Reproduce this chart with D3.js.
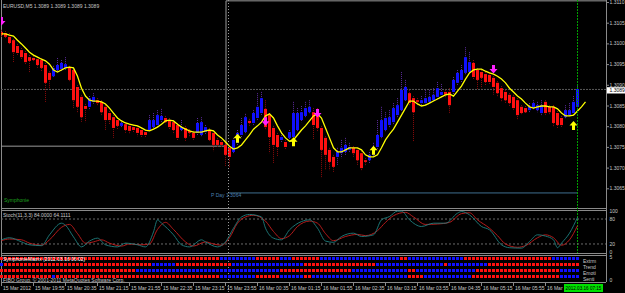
<!DOCTYPE html>
<html>
<head>
<meta charset="utf-8">
<script src="https://cdn.jsdelivr.net/npm/d3@7"></script>
<style>
  body { margin: 0; background: #000; }
  svg { display: block; }
  text { font-family: "Liberation Sans", Arial, sans-serif; }
</style>
</head>
<body>
<div id="chart"></div>
<script>
// EURUSD M5 bars, one per 5 minutes
const opens = [1.31029,1.31026,1.31017,1.31009,1.30995,1.30985,1.30978,1.30968,1.30966,1.30963,
  1.30961,1.30949,1.30930,1.30922,1.30937,1.30939,1.30942,1.30944,1.30937,1.30896,
  1.30872,1.30850,1.30848,1.30860,1.30864,1.30860,1.30848,1.30833,1.30823,1.30816,
  1.30802,1.30806,1.30802,1.30799,1.30797,1.30792,1.30787,1.30792,1.30799,1.30804,
  1.30816,1.30821,1.30816,1.30811,1.30804,1.30792,1.30797,1.30790,1.30785,1.30785,
  1.30780,1.30787,1.30792,1.30785,1.30768,1.30763,1.30756,1.30749,1.30739,1.30761,
  1.30780,1.30787,1.30814,1.30809,1.30821,1.30833,1.30843,1.30828,1.30797,1.30780,
  1.30768,1.30763,1.30773,1.30775,1.30792,1.30816,1.30826,1.30835,1.30835,1.30828,
  1.30797,1.30773,1.30744,1.30727,1.30727,1.30736,1.30739,1.30744,1.30749,1.30744,
  1.30736,1.30719,1.30719,1.30732,1.30751,1.30775,1.30792,1.30804,1.30811,1.30828,
  1.30840,1.30864,1.30881,1.30869,1.30864,1.30857,1.30857,1.30860,1.30864,1.30872,
  1.30877,1.30884,1.30884,1.30884,1.30906,1.30913,1.30930,1.30932,1.30954,1.30937,
  1.30932,1.30927,1.30925,1.30918,1.30906,1.30893,1.30884,1.30877,1.30872,1.30864,
  1.30848,1.30845,1.30840,1.30845,1.30840,1.30833,1.30860,1.30848,1.30848,1.30833,
  1.30821,1.30823,1.30828,1.30833,1.30848];
const highs = [1.31034,1.31031,1.31026,1.31012,1.31000,1.30990,1.30983,1.30973,1.30971,1.30968,
  1.30966,1.30954,1.30934,1.30947,1.30966,1.30961,1.30968,1.30947,1.30939,1.30901,
  1.30877,1.30855,1.30874,1.30881,1.30869,1.30864,1.30852,1.30838,1.30828,1.30821,
  1.30816,1.30811,1.30806,1.30804,1.30802,1.30797,1.30792,1.30828,1.30833,1.30840,
  1.30843,1.30826,1.30821,1.30816,1.30809,1.30816,1.30802,1.30794,1.30790,1.30821,
  1.30823,1.30804,1.30797,1.30790,1.30773,1.30768,1.30761,1.30753,1.30773,1.30792,
  1.30821,1.30831,1.30819,1.30840,1.30881,1.30884,1.30864,1.30833,1.30802,1.30785,
  1.30785,1.30768,1.30792,1.30860,1.30845,1.30850,1.30860,1.30864,1.30845,1.30845,
  1.30802,1.30777,1.30749,1.30732,1.30749,1.30768,1.30773,1.30761,1.30753,1.30749,
  1.30741,1.30724,1.30739,1.30761,1.30816,1.30848,1.30835,1.30840,1.30857,1.30869,
  1.30932,1.30913,1.30889,1.30874,1.30869,1.30874,1.30889,1.30889,1.30893,1.30908,
  1.30903,1.30889,1.30893,1.30920,1.30937,1.30949,1.30992,1.30980,1.30961,1.30942,
  1.30937,1.30932,1.30930,1.30922,1.30910,1.30898,1.30889,1.30881,1.30877,1.30869,
  1.30852,1.30850,1.30857,1.30864,1.30860,1.30864,1.30864,1.30852,1.30852,1.30838,
  1.30826,1.30852,1.30857,1.30874,1.30898];
const lows = [1.31017,1.31012,1.30997,1.30954,1.30973,1.30961,1.30949,1.30932,1.30956,1.30942,
  1.30932,1.30860,1.30893,1.30918,1.30932,1.30934,1.30937,1.30908,1.30845,1.30833,
  1.30811,1.30811,1.30840,1.30855,1.30852,1.30828,1.30792,1.30806,1.30773,1.30792,
  1.30797,1.30785,1.30782,1.30785,1.30777,1.30773,1.30775,1.30790,1.30797,1.30799,
  1.30811,1.30806,1.30792,1.30782,1.30768,1.30787,1.30765,1.30777,1.30768,1.30780,
  1.30775,1.30782,1.30763,1.30741,1.30749,1.30751,1.30703,1.30700,1.30734,1.30756,
  1.30775,1.30782,1.30802,1.30804,1.30816,1.30828,1.30794,1.30736,1.30712,1.30727,
  1.30763,1.30744,1.30768,1.30773,1.30787,1.30811,1.30821,1.30831,1.30768,1.30787,
  1.30676,1.30695,1.30695,1.30691,1.30707,1.30724,1.30732,1.30739,1.30727,1.30707,
  1.30695,1.30705,1.30712,1.30727,1.30746,1.30770,1.30787,1.30799,1.30806,1.30823,
  1.30835,1.30860,1.30850,1.30763,1.30850,1.30852,1.30852,1.30855,1.30860,1.30867,
  1.30869,1.30869,1.30833,1.30879,1.30901,1.30908,1.30925,1.30927,1.30913,1.30889,
  1.30893,1.30898,1.30901,1.30877,1.30872,1.30860,1.30857,1.30850,1.30840,1.30816,
  1.30828,1.30831,1.30835,1.30840,1.30835,1.30828,1.30828,1.30828,1.30799,1.30797,
  1.30799,1.30819,1.30823,1.30828,1.30840];
const closes = [1.31021,1.31017,1.31002,1.30980,1.30978,1.30968,1.30956,1.30959,1.30961,1.30949,
  1.30942,1.30906,1.30913,1.30942,1.30949,1.30954,1.30951,1.30913,1.30864,1.30848,
  1.30823,1.30843,1.30869,1.30872,1.30857,1.30835,1.30816,1.30816,1.30797,1.30802,
  1.30809,1.30792,1.30790,1.30792,1.30785,1.30780,1.30780,1.30816,1.30816,1.30828,
  1.30826,1.30811,1.30799,1.30792,1.30773,1.30799,1.30773,1.30785,1.30773,1.30809,
  1.30811,1.30799,1.30768,1.30756,1.30756,1.30756,1.30732,1.30727,1.30768,1.30785,
  1.30804,1.30823,1.30809,1.30833,1.30848,1.30869,1.30799,1.30775,1.30756,1.30751,
  1.30775,1.30751,1.30787,1.30833,1.30833,1.30835,1.30845,1.30848,1.30804,1.30797,
  1.30744,1.30732,1.30715,1.30703,1.30739,1.30749,1.30756,1.30751,1.30736,1.30719,
  1.30700,1.30715,1.30732,1.30751,1.30780,1.30816,1.30821,1.30823,1.30845,1.30852,
  1.30889,1.30896,1.30857,1.30835,1.30860,1.30864,1.30869,1.30872,1.30877,1.30893,
  1.30884,1.30877,1.30852,1.30913,1.30930,1.30937,1.30968,1.30956,1.30920,1.30913,
  1.30918,1.30908,1.30908,1.30896,1.30881,1.30869,1.30864,1.30857,1.30845,1.30828,
  1.30833,1.30835,1.30848,1.30857,1.30852,1.30852,1.30833,1.30835,1.30809,1.30804,
  1.30804,1.30840,1.30840,1.30860,1.30891];

// yellow moving average (runs two bars past the last candle)
const maLine = [1.31024,1.31024,1.31021,1.31019,1.31009,1.31000,1.30990,1.30980,1.30973,1.30968,
  1.30963,1.30959,1.30951,1.30937,1.30932,1.30937,1.30942,1.30944,1.30942,1.30922,
  1.30893,1.30874,1.30864,1.30862,1.30862,1.30860,1.30855,1.30845,1.30833,1.30821,
  1.30814,1.30809,1.30806,1.30804,1.30802,1.30797,1.30792,1.30790,1.30794,1.30799,
  1.30806,1.30814,1.30816,1.30814,1.30806,1.30799,1.30794,1.30790,1.30787,1.30787,
  1.30787,1.30790,1.30792,1.30790,1.30780,1.30773,1.30763,1.30753,1.30746,1.30749,
  1.30756,1.30768,1.30780,1.30794,1.30802,1.30811,1.30826,1.30831,1.30821,1.30802,
  1.30785,1.30773,1.30765,1.30768,1.30780,1.30792,1.30802,1.30814,1.30826,1.30831,
  1.30821,1.30797,1.30773,1.30749,1.30739,1.30739,1.30744,1.30749,1.30749,1.30749,
  1.30744,1.30732,1.30727,1.30727,1.30732,1.30749,1.30768,1.30782,1.30794,1.30811,
  1.30828,1.30845,1.30862,1.30862,1.30855,1.30850,1.30852,1.30857,1.30862,1.30867,
  1.30872,1.30877,1.30879,1.30874,1.30886,1.30898,1.30915,1.30930,1.30937,1.30939,
  1.30939,1.30934,1.30930,1.30927,1.30922,1.30915,1.30906,1.30893,1.30884,1.30874,
  1.30867,1.30857,1.30848,1.30845,1.30848,1.30850,1.30850,1.30848,1.30848,1.30843,
  1.30833,1.30826,1.30826,1.30828,1.30838,1.30848,1.30860];

// signal arrows
const downIdx = [0, 66, 79, 123];
const downPrice = [1.31065, 1.30823, 1.30843, 1.30949];
const upIdx = [59, 73, 93, 143];
const upPrice = [1.30761, 1.30753, 1.30732, 1.30792];

// levels
const bidPrice = 1.3089;
const pDayPrice = 1.3064;
const prevBoxPrice = 1.30753;
const curBoxPrice = 1.31104;
const dayBreakIdx = 57;
const markerIdx = 144;

// stochastic (11,3,3)
const stochIdx = [0,2,5,7,10,12,15,16,18,20,22,24,26,29,31,34,36,38,39,40,43,45,47,50,51,54,56,58,60,62,65,66,68,70,72,75,77,79,81,83,85,88,90,93,95,97,99,100,102,105,108,111,114,115,117,120,122,125,127,130,132,134,136,138,139,140,142,144];
const stochMain = [30,35,25,18,16,42,70,65,37,13,27,34,18,13,22,18,13,49,78,70,42,18,13,30,25,13,25,58,85,91,85,58,34,30,54,74,78,58,27,24,38,46,38,42,78,86,99,99,78,62,70,70,94,98,90,62,54,18,11,10,26,42,39,30,11,22,46,84];
const signalIdx = [0,2,5,7,10,12,15,17,19,21,23,25,27,30,32,35,37,39,41,43,46,48,51,53,55,57,59,61,63,66,68,70,72,74,77,79,81,83,86,89,91,94,96,98,101,103,106,109,112,115,117,119,122,124,126,129,131,134,136,138,140,142,144];
const stochSignal = [28,32,30,22,17,30,60,67,45,22,25,30,22,15,20,18,20,55,72,55,25,15,25,20,17,35,70,85,89,75,50,33,40,62,75,70,45,28,38,43,40,52,72,88,96,85,67,68,72,93,95,78,58,40,20,12,16,35,42,35,17,30,64];
const stochTicks = [100, 80, 20, 0];

// SymphonieMatrix rows as runs of red / blue squares
const matrixNames = ["Extrm", "Trend", "Emoti", "Senti"];
const matrixRuns = [
  [["r",55],["b",9],["r",6],["b",3],["r",7],["b",20],["r",2],["b",14],["r",22],["b",7]],
  [["b",1],["r",37],["b",6],["r",14],["b",18],["r",18],["b",17],["r",1],["b",10],["r",23]],
  [["r",34],["b",36],["r",18],["b",14],["r",2],["b",15],["r",21],["b",5]],
  [["r",13],["b",1],["r",41],["b",9],["r",6],["b",6],["r",2],["b",24],["r",4],["b",12],["r",22],["b",5]]
];

// axes
const priceTicks = [1.3110,1.3105,1.3100,1.3095,1.3090,1.3085,1.3080,1.3075,1.3070,1.3065];
const timeIdx = [0,8,16,24,32,40,48,56,64,72,80,88,96,104,112,120,128,136];
// the last label is mostly hidden behind the time marker box, only "16 Mar" shows
const timeLabels = ["15 Mar 2012","15 Mar 19:55","15 Mar 20:35","15 Mar 21:15","15 Mar 21:55","15 Mar 22:35",
  "15 Mar 23:15","15 Mar 23:55","16 Mar 00:35","16 Mar 01:15","16 Mar 01:55","16 Mar 02:35","16 Mar 03:15",
  "16 Mar 03:55","16 Mar 04:35","16 Mar 05:15","16 Mar 05:55","16 Mar"];
const markerTime = "2012.03.16 07:15";

const W = 625, H = 293;
const plotR = 606;
const mainB = 208, stochT = 210, stochB = 253, matT = 255, matB = 282;
const fg = "#c8c8c8", frame = "#8a8a8a";

const svg = d3.select("#chart").append("svg")
  .attr("width", W).attr("height", H)
  .style("background", "#000");

const x = d3.scaleLinear().domain([0, 144]).range([1, 577]);
const y = d3.scaleLinear().domain([1.3065, 1.3110]).range([188.8, 2.5]);
const ys = d3.scaleLinear().domain([0, 100]).range([252.3, 210.7]);

svg.append("clipPath").attr("id", "mainClip")
  .append("rect").attr("x", 1).attr("y", 0).attr("width", plotR - 1).attr("height", mainB);

// panel frames
svg.append("line").attr("x1", 1.5).attr("x2", 1.5).attr("y1", 0).attr("y2", matB).attr("stroke", frame);
svg.append("line").attr("x1", plotR + 0.5).attr("x2", plotR + 0.5).attr("y1", 0).attr("y2", matB).attr("stroke", frame);
[mainB, stochT, stochB, matT, matB].forEach(v => {
  svg.append("line").attr("x1", 1).attr("x2", plotR).attr("y1", v + 0.5).attr("y2", v + 0.5).attr("stroke", frame);
});

const main = svg.append("g").attr("clip-path", "url(#mainClip)");

// day box lines
const xBox = x(dayBreakIdx) - 3;
main.append("path")
  .attr("d", `M1,${y(prevBoxPrice)}H${xBox}V${y(curBoxPrice)}H${plotR}`)
  .attr("fill", "none").attr("stroke", "#9a9a9a");

// bid line
main.append("line").attr("x1", 1).attr("x2", plotR).attr("y1", y(bidPrice)).attr("y2", y(bidPrice))
  .attr("stroke", "#5a5a5a").attr("stroke-dasharray", "2,1");

// P Day line
main.append("line").attr("x1", x(dayBreakIdx) - 1).attr("x2", x(markerIdx)).attr("y1", y(pDayPrice)).attr("y2", y(pDayPrice))
  .attr("stroke", "#3f6f8f");
main.append("text").attr("x", 211).attr("y", y(pDayPrice) + 4.5)
  .attr("font-size", 5).attr("fill", "#4a7fb0").text("P Day  " + pDayPrice.toFixed(4));

// candles
const bars = opens.map((o, i) => ({ i, o, h: highs[i], l: lows[i], c: closes[i] }));
main.selectAll(".wick").data(bars).enter().append("line")
  .attr("x1", d => x(d.i) + 0.5).attr("x2", d => x(d.i) + 0.5)
  .attr("y1", d => y(d.h)).attr("y2", d => y(d.l))
  .attr("stroke", d => d.c >= d.o ? "#5a2a9a" : "#8a0a0a")
  .attr("stroke-dasharray", "1,1");
main.selectAll(".body").data(bars).enter().append("rect")
  .attr("x", d => x(d.i) - 1)
  .attr("width", 3)
  .attr("y", d => y(Math.max(d.o, d.c)))
  .attr("height", d => Math.max(1, y(Math.min(d.o, d.c)) - y(Math.max(d.o, d.c))))
  .attr("fill", d => d.c >= d.o ? "#1010ff" : "#ff1010");

// moving average
main.append("path")
  .datum(maLine)
  .attr("d", d3.line().x((d, i) => x(i) + 0.5).y(d => y(d)))
  .attr("fill", "none").attr("stroke", "#ffff00").attr("stroke-width", 1.3);

// arrows
downIdx.forEach((b, k) => {
  const cx = x(b) + 0.5, top = y(downPrice[k]);
  main.append("path")
    .attr("d", `M${cx - 1.5},${top}h3v4h2.5l-4,4.5l-4,-4.5h2.5z`)
    .attr("fill", "#ff20ff");
});
upIdx.forEach((b, k) => {
  const cx = x(b) + 0.5, bot = y(upPrice[k]);
  main.append("path")
    .attr("d", `M${cx - 1.5},${bot}h3v-4.5h2.5l-4,-4.5l-4,4.5h2.5z`)
    .attr("fill", "#ffff00");
});

// vertical markers
svg.append("line").attr("x1", x(dayBreakIdx) - 0.5).attr("x2", x(dayBreakIdx) - 0.5).attr("y1", 0).attr("y2", H)
  .attr("stroke", "#9a9a9a").attr("stroke-dasharray", "1,2");
svg.append("line").attr("x1", x(markerIdx) + 0.5).attr("x2", x(markerIdx) + 0.5).attr("y1", 0).attr("y2", stochB)
  .attr("stroke", "#00a000").attr("stroke-dasharray", "2,1");

// texts in main panel
svg.append("text").attr("x", 3).attr("y", 7.5).attr("font-size", 5).attr("fill", fg)
  .text("EURUSD,M5  1.3089 1.3089 1.3089 1.3089");
svg.append("text").attr("x", 4).attr("y", 202).attr("font-size", 5).attr("fill", "#1fa01f").text("Symphonie");

// price axis
const pa = svg.append("g");
priceTicks.forEach(p => {
  pa.append("line").attr("x1", plotR).attr("x2", plotR + 3).attr("y1", y(p)).attr("y2", y(p)).attr("stroke", frame);
  pa.append("text").attr("x", plotR + 3.5).attr("y", y(p) + 1.5).attr("font-size", 5).attr("fill", fg).text(d3.format(".4f")(p));
});
pa.append("rect").attr("x", plotR + 1).attr("y", 87.2).attr("width", W - plotR - 1).attr("height", 6.3).attr("fill", "#fff");
pa.append("text").attr("x", plotR + 3.5).attr("y", 92.3).attr("font-size", 5).attr("fill", "#000").text(bidPrice.toFixed(4));

// stochastic panel
[80, 20].forEach(v => {
  svg.append("line").attr("x1", 1).attr("x2", plotR).attr("y1", ys(v)).attr("y2", ys(v))
    .attr("stroke", "#6a6a6a").attr("stroke-dasharray", "2,2");
});
const sLine = d3.line().curve(d3.curveMonotoneX);
svg.append("path")
  .attr("d", sLine(signalIdx.map((b, k) => [x(b) + 0.5, ys(stochSignal[k])])))
  .attr("fill", "none").attr("stroke", "#c81e1e").attr("stroke-width", 0.9);
svg.append("path")
  .attr("d", sLine(stochIdx.map((b, k) => [x(b) + 0.5, ys(stochMain[k])])))
  .attr("fill", "none").attr("stroke", "#1f8080").attr("stroke-width", 0.9);
svg.append("text").attr("x", 3).attr("y", 216.5).attr("font-size", 5).attr("fill", fg)
  .text("Stoch(11,3,3) 84.0000 64.1111");
stochTicks.forEach(v => {
  svg.append("text").attr("x", plotR + 3.5).attr("y", ys(v) + 2).attr("font-size", 5).attr("fill", fg).text(v);
});

// SymphonieMatrix
const rowY = [258.5, 264.5, 270.5, 276.5];
matrixRuns.forEach((runs, r) => {
  const cells = [];
  let pos = 0;
  runs.forEach(([col, n]) => { for (let k = 0; k < n; k++) cells.push({ i: pos + k, col }); pos += n; });
  svg.selectAll(".m" + r).data(cells).enter().append("rect")
    .attr("x", d => x(d.i) - 1).attr("y", rowY[r] - 1.5)
    .attr("width", 3).attr("height", 3)
    .attr("fill", d => d.col === "r" ? "#ff1010" : "#1010ff");
  svg.append("text").attr("x", 583).attr("y", rowY[r] + 4.5).attr("font-size", 5).attr("fill", fg).text(matrixNames[r]);
});
svg.append("text").attr("x", 3).attr("y", 261).attr("font-size", 5).attr("fill", "#fff")
  .text("SymphonieMatrix (2012.03.16 06:02)");
svg.append("text").attr("x", 3).attr("y", 281.5).attr("font-size", 5).attr("fill", fg)
  .text("FIBO Group, © 2001-2011 MetaQuotes Software Corp.");
svg.append("text").attr("x", plotR + 3.5).attr("y", 259).attr("font-size", 5).attr("fill", fg).text("5");
svg.append("text").attr("x", plotR + 3.5).attr("y", 282).attr("font-size", 5).attr("fill", fg).text("0");

// time axis
timeIdx.forEach((b, k) => {
  svg.append("line").attr("x1", x(b) + 0.5).attr("x2", x(b) + 0.5).attr("y1", matB).attr("y2", matB + 4).attr("stroke", frame);
  svg.append("text").attr("x", x(b) + 2).attr("y", 290).attr("font-size", 5).attr("fill", fg).text(timeLabels[k]);
});
svg.append("rect").attr("x", 564).attr("y", 284).attr("width", 39).attr("height", 8).attr("fill", "#00e000");
svg.append("text").attr("x", 583.5).attr("y", 290).attr("font-size", 4.6).attr("fill", "#000")
  .attr("text-anchor", "middle").text(markerTime);
</script>
</body>
</html>
